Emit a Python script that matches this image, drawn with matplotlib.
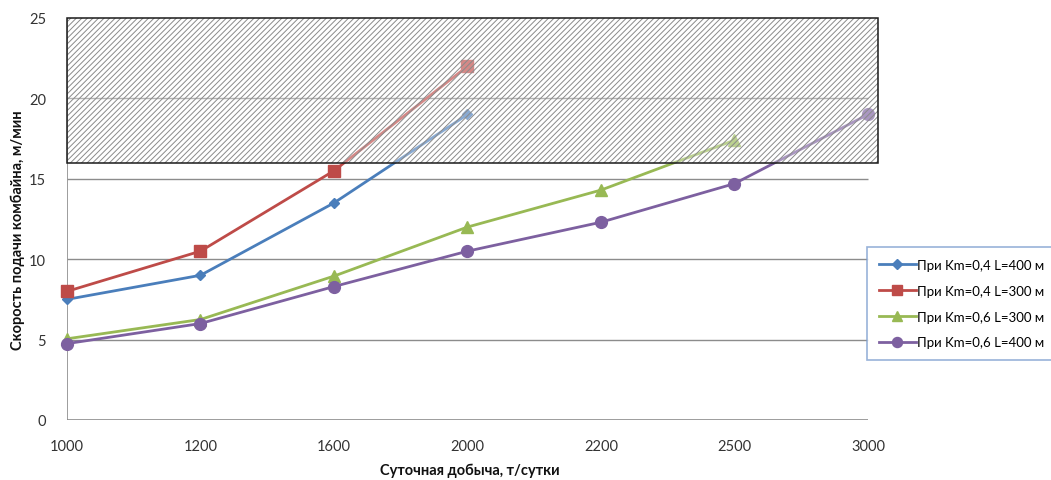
import matplotlib
matplotlib.use("Agg")
import matplotlib.pyplot as plt
from matplotlib.patches import Rectangle
from matplotlib.lines import Line2D

plt.rcParams['font.family'] = ['Lato', 'DejaVu Sans']
plt.rcParams['hatch.linewidth'] = 0.7

# Daily output categories, t/day
categories = ["1000", "1200", "1600", "2000", "2200", "2500", "3000"]

# Feed speed of the shearer, m/min
km04_l400 = [7.5, 9.0, 13.5, 19.0]
km04_l300 = [8.0, 10.5, 15.5, 22.0]
km06_l300 = [5.05, 6.25, 8.95, 12.0, 14.3, 17.4]
km06_l400 = [4.75, 6.0, 8.3, 10.5, 12.3, 14.7, 19.0]

labels = ["При Km=0,4 L=400 м", "При Km=0,4 L=300 м",
          "При Km=0,6 L=300 м", "При Km=0,6 L=400 м"]

# Hatched zone of inadmissible feed speed
zone_low, zone_high = 16.0, 25.0

W, H = 1051, 481
fig = plt.figure(figsize=(W / 100, H / 100), dpi=100)
x0, x_last, x_right = 67, 868, 878
y_bot, y_top = 421, 19
ax = fig.add_axes([x0 / W, 1 - y_bot / H, (x_right - x0) / W, (y_bot - y_top) / H])

n = len(categories)
xmax = (n - 1) * (x_right - x0) / (x_last - x0)
ax.set_xlim(0, xmax)
ax.set_ylim(0, 25)

grid_col = "#8c8c8c"
for v in [5, 10, 15, 20]:
    ax.hlines(v, 0, n - 1, color=grid_col, lw=1.0, zorder=1)
ax.hlines(0, 0, n - 1, color=grid_col, lw=1.2, zorder=1)
ax.vlines(0, 0, 25, color=grid_col, lw=1.2, zorder=1)

for s in ax.spines.values():
    s.set_visible(False)

series = [
    (km04_l400, "#4a7ebb", "D", 5.5),
    (km04_l300, "#be4b48", "s", 8),
    (km06_l300, "#98b954", "^", 8.5),
    (km06_l400, "#7d60a0", "o", 8.5),
]
handles = []
for (vals, col, mk, ms), lab in zip(series, labels):
    xs = list(range(len(vals)))
    ax.plot(xs, vals, color=col, lw=2.0, marker=mk, ms=ms, mec=col, mfc=col,
            zorder=3, clip_on=False)
    handles.append(Line2D([], [], color=col, lw=2.0, marker=mk, ms=ms * 0.85,
                          mec=col, mfc=col, label=lab))

# semi-transparent hatched zone drawn over the curves
ax.add_patch(Rectangle((0, zone_low), xmax, zone_high - zone_low,
                       facecolor=(1, 1, 1, 0.35), edgecolor="#8a8a8a",
                       hatch="//////", lw=0, zorder=4, clip_on=False))
ax.add_patch(Rectangle((0, zone_low), xmax, zone_high - zone_low,
                       facecolor="none", edgecolor="#1a1a1a", lw=1.1,
                       zorder=5, clip_on=False))

ax.set_xticks(range(n))
ax.set_xticklabels(categories)
ax.set_yticks([0, 5, 10, 15, 20, 25])
ax.tick_params(length=0, labelsize=10.5, colors="#333333", pad=14)
ax.tick_params(axis="y", pad=15)

fig.text(18 / W, 1 - 230 / H, "Скорость подачи комбайна, м/мин", rotation=90,
         ha="center", va="center", fontsize=10.5, fontweight="bold", color="#111111")
fig.text(470 / W, 1 - 471 / H, "Суточная добыча, т/сутки", ha="center",
         va="center", fontsize=10.5, fontweight="bold", color="#111111")

leg = fig.legend(handles=handles, loc="upper left",
                 bbox_to_anchor=(867 / W, 1 - 248 / H), frameon=True,
                 fancybox=False, fontsize=9.5, handlelength=2.8,
                 handletextpad=0.1, labelspacing=1.05, borderpad=0.9,
                 borderaxespad=0)
leg.get_frame().set_edgecolor("#7f9fcf")
leg.get_frame().set_linewidth(1.2)

fig.savefig("out.png", dpi=100)
